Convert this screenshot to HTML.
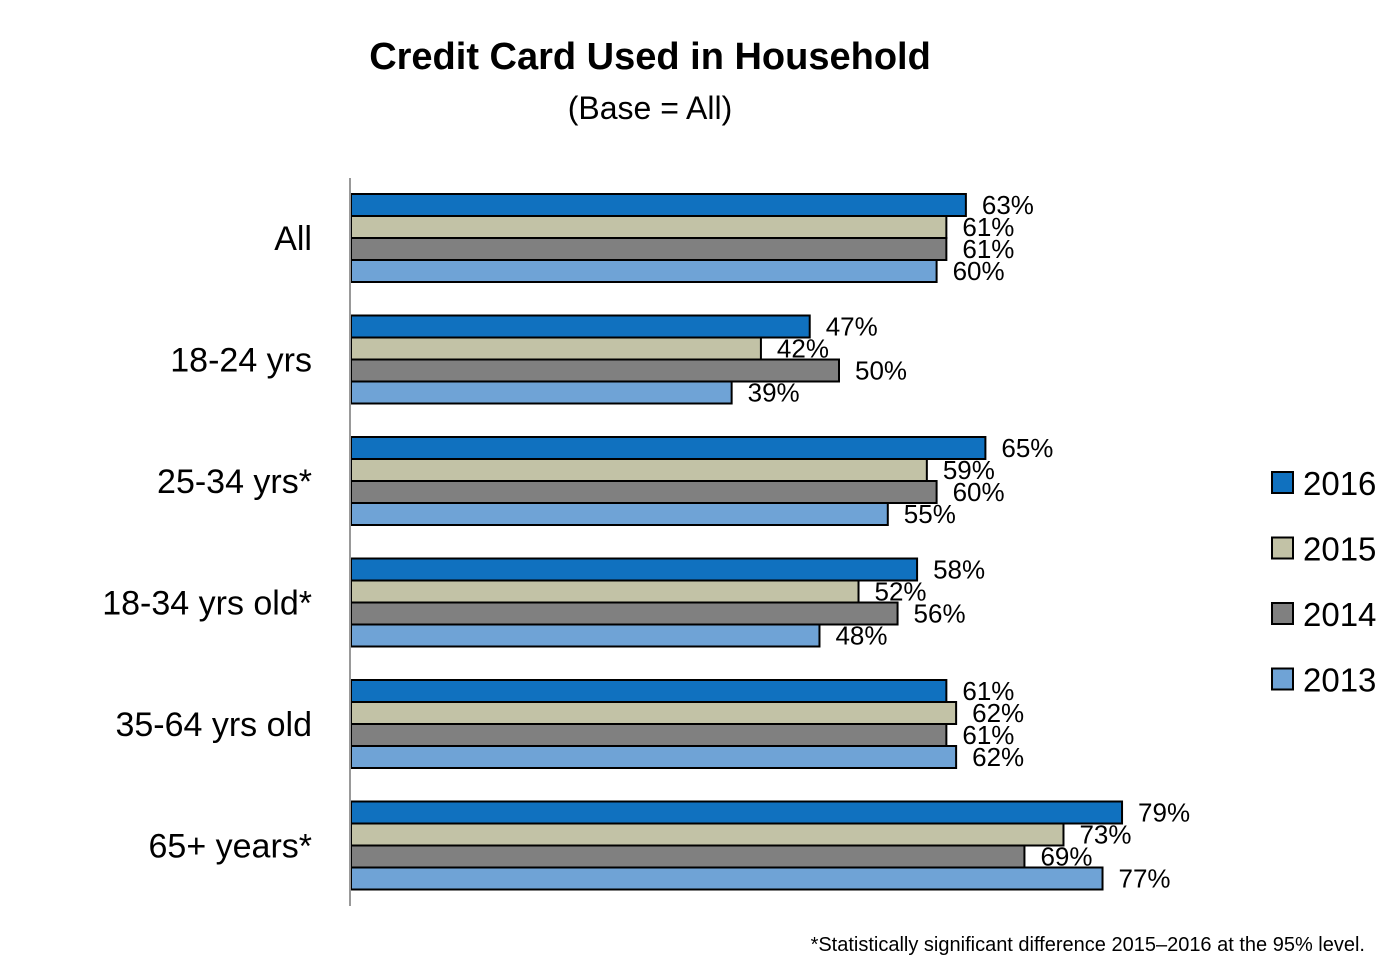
<!DOCTYPE html>
<html><head><meta charset="utf-8"><style>
body{margin:0;background:#fff;width:1398px;height:964px;overflow:hidden;font-family:"Liberation Sans",sans-serif}
</style></head><body>
<svg id="chart" width="1398" height="964" font-family="Liberation Sans, sans-serif">
<text x="650" y="69" text-anchor="middle" font-size="38" font-weight="bold">Credit Card Used in Household</text>
<text x="650" y="119" text-anchor="middle" font-size="32">(Base = All)</text>
<g id="bars"></g>
<line x1="350" y1="178" x2="350" y2="906" stroke="#999" stroke-width="2"/>
<g id="legend"></g>
<text x="1365" y="951" text-anchor="end" font-size="20">*Statistically significant difference 2015–2016 at the 95% level.</text>
</svg>
<script>
const categories=["All","18-24 yrs","25-34 yrs*","18-34 yrs old*","35-64 yrs old","65+ years*"];
const seriesNames=["2016","2015","2014","2013"];
const s2016=[63,47,65,58,61,79];
const s2015=[61,42,59,52,62,73];
const s2014=[61,50,60,56,61,69];
const s2013=[60,39,55,48,62,77];
const series=[s2016,s2015,s2014,s2013];
const colors=["#1071bf","#c2c2a6","#808080","#6fa3d6"];
const NS="http://www.w3.org/2000/svg";
const x0=351, pxPer=9.76, g0=194, gStep=121.5, barH=22;
const xs=v=>x0+v*pxPer;
const bars=document.getElementById('bars');
function mk(t,a){const e=document.createElementNS(NS,t);for(const k in a)e.setAttribute(k,a[k]);return e;}
categories.forEach((c,i)=>{
  const gy=g0+i*gStep;
  const lab=mk('text',{x:312,y:gy+44+12,'text-anchor':'end','font-size':34});
  lab.textContent=c;
  
  
  bars.appendChild(lab);
  series.forEach((s,j)=>{
    const y=gy+j*barH;
    const r=mk('rect',{x:x0,y:y,width:xs(s[i])-x0,height:barH,fill:colors[j],stroke:'#000','stroke-width':2});
    
    
    bars.appendChild(r);
    const t=mk('text',{x:xs(s[i])+16,y:y+barH/2+9,'font-size':26});
    t.textContent=s[i]+'%';
    
    
    bars.appendChild(t);
  });
});
const lg=document.getElementById('legend');
seriesNames.forEach((n,j)=>{
  const y=472+j*65.5;
  const r=mk('rect',{x:1272,y:y,width:21,height:21,fill:colors[j],stroke:'#000','stroke-width':2});
  
  
  lg.appendChild(r);
  const t=mk('text',{x:1303,y:y+23,'font-size':33});
  t.textContent=n;
  
  
  lg.appendChild(t);
});
</script>
</body></html>
